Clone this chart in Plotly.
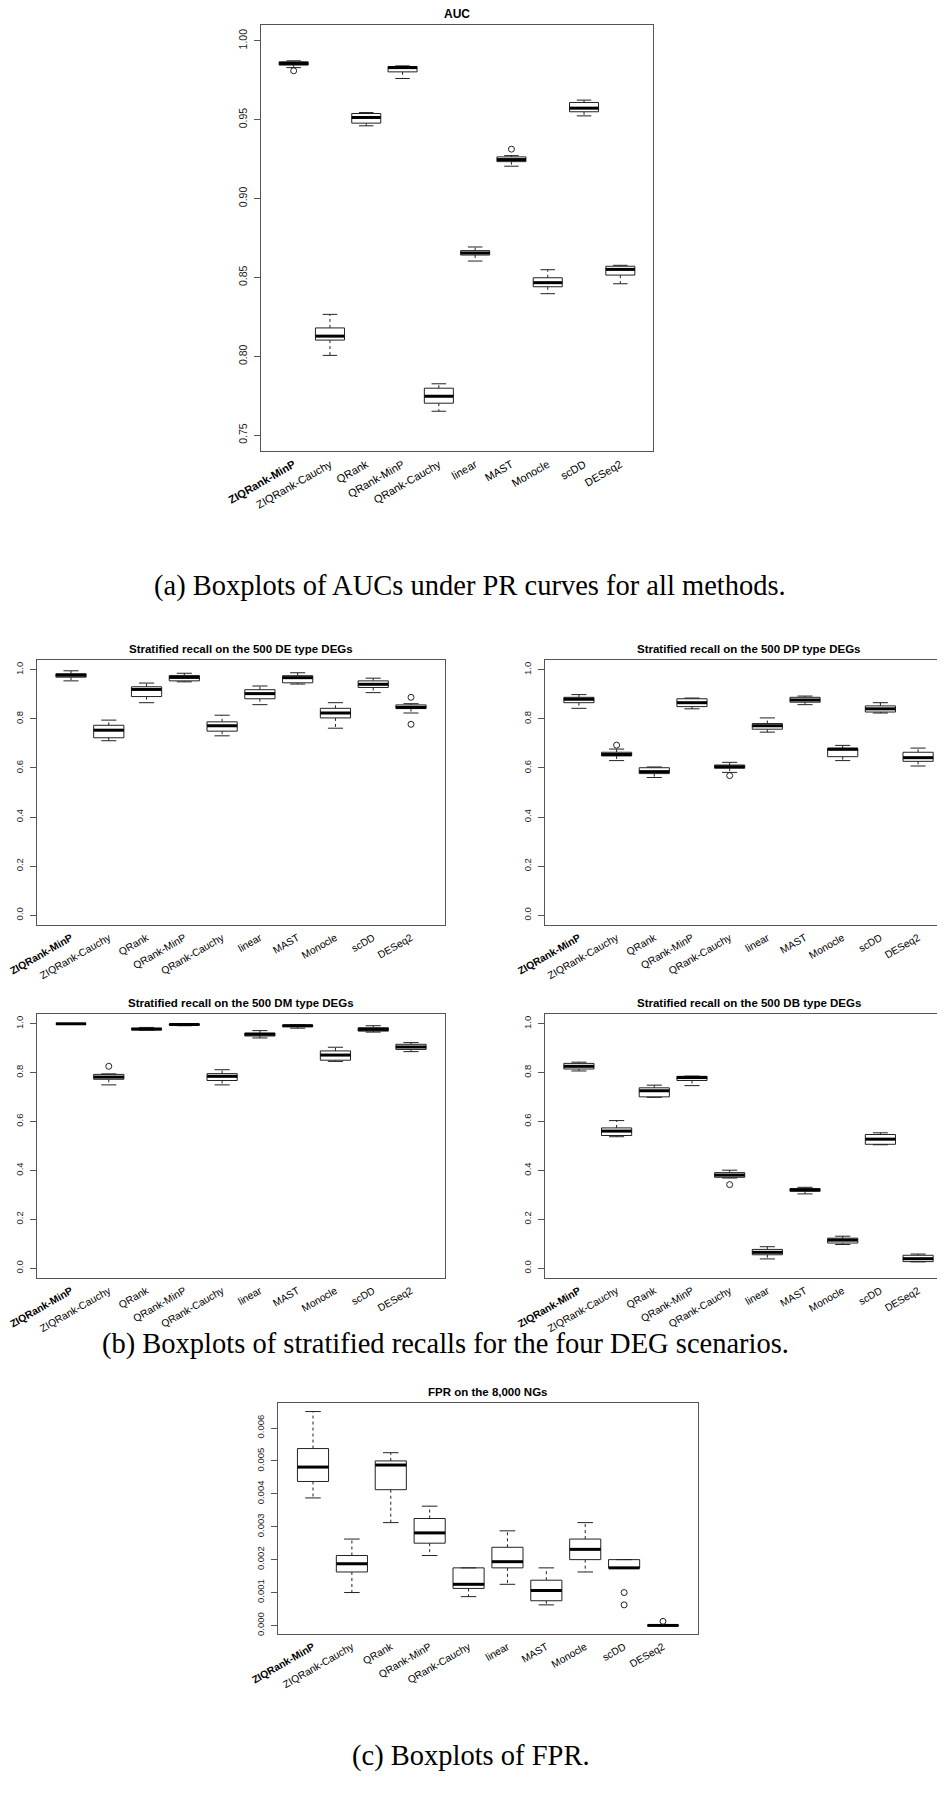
import plotly.graph_objects as go

W, H = 945, 1800

methods = ["ZIQRank-MinP", "ZIQRank-Cauchy", "QRank", "QRank-MinP", "QRank-Cauchy",
           "linear", "MAST", "Monocle", "scDD", "DESeq2"]
tick_text = ["<b>ZIQRank-MinP</b>"] + methods[1:]

# (a) AUC
auc_lo = [0.9830, 0.8006, 0.9461, 0.9761, 0.7652, 0.8604, 0.9205, 0.8397, 0.9524, 0.8460]
auc_q1 = [0.9846, 0.8103, 0.9478, 0.9803, 0.7703, 0.8642, 0.9234, 0.8441, 0.9550, 0.8515]
auc_med = [0.9856, 0.8128, 0.9514, 0.9830, 0.7747, 0.8655, 0.9247, 0.8467, 0.9573, 0.8551]
auc_q3 = [0.9867, 0.8180, 0.9539, 0.9837, 0.7798, 0.8670, 0.9264, 0.8498, 0.9609, 0.8571]
auc_hi = [0.9873, 0.8266, 0.9545, 0.9841, 0.7826, 0.8693, 0.9272, 0.8549, 0.9624, 0.8577]
auc_out = [[0.981], [], [], [], [], [], [0.9313], [], [], []]

# (b) stratified recall, DE
de_lo = [0.955, 0.711, 0.866, 0.951, 0.731, 0.858, 0.942, 0.762, 0.907, 0.824]
de_q1 = [0.970, 0.723, 0.891, 0.955, 0.750, 0.882, 0.947, 0.804, 0.928, 0.842]
de_med = [0.978, 0.754, 0.920, 0.969, 0.772, 0.903, 0.968, 0.824, 0.941, 0.847]
de_q3 = [0.984, 0.774, 0.931, 0.977, 0.788, 0.919, 0.976, 0.843, 0.955, 0.857]
de_hi = [0.996, 0.795, 0.946, 0.986, 0.815, 0.934, 0.988, 0.866, 0.966, 0.862]
de_out = [[], [], [], [], [], [], [], [], [], [0.888, 0.778]]

# DP
dp_lo = [0.843, 0.630, 0.561, 0.841, 0.582, 0.746, 0.858, 0.630, 0.824, 0.608]
dp_q1 = [0.866, 0.649, 0.577, 0.850, 0.599, 0.758, 0.868, 0.646, 0.828, 0.627]
dp_med = [0.880, 0.655, 0.585, 0.866, 0.605, 0.772, 0.877, 0.676, 0.841, 0.642]
dp_q3 = [0.888, 0.664, 0.601, 0.882, 0.612, 0.781, 0.888, 0.681, 0.853, 0.664]
dp_hi = [0.899, 0.677, 0.604, 0.885, 0.623, 0.804, 0.893, 0.692, 0.866, 0.681]
dp_out = [[], [0.693], [], [], [0.569], [], [], [], [], []]

# DM
dm_lo = [0.998, 0.750, 0.974, 0.992, 0.750, 0.942, 0.982, 0.846, 0.966, 0.886]
dm_q1 = [0.999, 0.773, 0.976, 0.995, 0.768, 0.950, 0.988, 0.851, 0.970, 0.895]
dm_med = [1.000, 0.782, 0.978, 0.997, 0.785, 0.957, 0.992, 0.872, 0.977, 0.905]
dm_q3 = [1.000, 0.793, 0.982, 0.999, 0.796, 0.962, 0.995, 0.889, 0.984, 0.916]
dm_hi = [1.000, 0.795, 0.985, 1.000, 0.812, 0.972, 0.996, 0.904, 0.992, 0.923]
dm_out = [[], [0.826], [], [], [], [], [], [], [], []]

# DB
db_lo = [0.807, 0.538, 0.699, 0.747, 0.369, 0.038, 0.304, 0.097, 0.505, 0.026]
db_q1 = [0.815, 0.543, 0.701, 0.768, 0.372, 0.055, 0.315, 0.103, 0.507, 0.027]
db_med = [0.826, 0.561, 0.726, 0.780, 0.381, 0.065, 0.320, 0.115, 0.528, 0.039]
db_q3 = [0.838, 0.574, 0.738, 0.785, 0.391, 0.077, 0.326, 0.123, 0.547, 0.053]
db_hi = [0.843, 0.604, 0.749, 0.786, 0.401, 0.088, 0.331, 0.131, 0.554, 0.058]
db_out = [[], [], [], [], [0.342], [], [], [], [], []]

# (c) FPR
fpr_lo = [0.003875, 0.001, 0.003125, 0.002125, 0.000875, 0.00125, 0.000625, 0.001625, 0.00175, 0.0]
fpr_q1 = [0.004375, 0.001625, 0.004125, 0.0025, 0.001125, 0.00175, 0.00075, 0.002, 0.00175, 0.0]
fpr_med = [0.0048125, 0.001875, 0.004875, 0.0028125, 0.00125, 0.0019375, 0.0010625, 0.0023125, 0.00175, 0.0]
fpr_q3 = [0.005375, 0.002125, 0.005, 0.00325, 0.00175, 0.002375, 0.001375, 0.002625, 0.002, 0.0]
fpr_hi = [0.0065, 0.002625, 0.00525, 0.003625, 0.00175, 0.002875, 0.00175, 0.003125, 0.002, 0.0]
fpr_out = [[], [], [], [], [], [], [], [], [0.001, 0.000625], [0.000125]]

recall_ticks = [0, 0.2, 0.4, 0.6, 0.8, 1.0]
panels = [
    # title, stats, plot box in px (x0, y0, x1, y1), y range, tick values, tick format
    ("AUC", (auc_lo, auc_q1, auc_med, auc_q3, auc_hi, auc_out), (253, 17, 645, 443),
     [0.74, 1.01], [0.75, 0.80, 0.85, 0.90, 0.95, 1.00], ".2f"),
    ("Stratified recall on the 500 DE type DEGs", (de_lo, de_q1, de_med, de_q3, de_hi, de_out),
     (29, 652, 437, 917), [-0.04, 1.04], recall_ticks, ".1f"),
    ("Stratified recall on the 500 DP type DEGs", (dp_lo, dp_q1, dp_med, dp_q3, dp_hi, dp_out),
     (537, 652, 944, 917), [-0.04, 1.04], recall_ticks, ".1f"),
    ("Stratified recall on the 500 DM type DEGs", (dm_lo, dm_q1, dm_med, dm_q3, dm_hi, dm_out),
     (29, 1006, 437, 1270), [-0.04, 1.04], recall_ticks, ".1f"),
    ("Stratified recall on the 500 DB type DEGs", (db_lo, db_q1, db_med, db_q3, db_hi, db_out),
     (537, 1006, 944, 1270), [-0.04, 1.04], recall_ticks, ".1f"),
    ("FPR on the 8,000 NGs", (fpr_lo, fpr_q1, fpr_med, fpr_q3, fpr_hi, fpr_out),
     (270, 1395, 690, 1626), [-0.00026, 0.00676],
     [0, 0.001, 0.002, 0.003, 0.004, 0.005, 0.006], ".3f"),
]

captions = [
    ("(a) Boxplots of AUCs under PR curves for all methods.", 462, 578),
    ("(b) Boxplots of stratified recalls for the four DEG scenarios.", 437, 1336),
    ("(c) Boxplots of FPR.", 463, 1748),
]

SANS = "Liberation Sans, Arial, sans-serif"
SERIF = "Liberation Serif, Times New Roman, serif"
BOXW = 0.4   # half box width
CAPW = 0.2   # half staple width

fig = go.Figure()
layout = {}
annotations = []

for k, (title, stats, box, yr, yticks, fmt) in enumerate(panels):
    lo, q1, med, q3, hi, out = stats
    n = k + 1
    xa = "x" if n == 1 else f"x{n}"
    ya = "y" if n == 1 else f"y{n}"
    pos = list(range(1, len(methods) + 1))

    wx, wy, bx, by, mx, my, cx, cy, ox, oy = [], [], [], [], [], [], [], [], [], []
    for i, p in enumerate(pos):
        wx += [p, p, None, p, p, None]
        wy += [q3[i], hi[i], None, q1[i], lo[i], None]
        bx += [p - BOXW, p + BOXW, p + BOXW, p - BOXW, p - BOXW, None]
        by += [q1[i], q1[i], q3[i], q3[i], q1[i], None]
        mx += [p - BOXW, p + BOXW, None]
        my += [med[i], med[i], None]
        cx += [p - CAPW, p + CAPW, None, p - CAPW, p + CAPW, None]
        cy += [hi[i], hi[i], None, lo[i], lo[i], None]
        for v in out[i]:
            ox.append(p)
            oy.append(v)

    common = dict(xaxis=xa, yaxis=ya, showlegend=False, hoverinfo="skip")
    fig.add_trace(go.Scatter(x=wx, y=wy, mode="lines",
                             line=dict(color="#222", width=1, dash="3px,3px"), **common))
    fig.add_trace(go.Scatter(x=bx, y=by, mode="lines", fill="toself", fillcolor="white",
                             line=dict(color="#222", width=1), **common))
    fig.add_trace(go.Scatter(x=cx, y=cy, mode="lines",
                             line=dict(color="#222", width=1), **common))
    fig.add_trace(go.Scatter(x=mx, y=my, mode="lines",
                             line=dict(color="black", width=3), **common))
    fig.add_trace(go.Scatter(x=ox, y=oy, mode="markers",
                             marker=dict(symbol="circle-open", size=6,
                                         color="#222", line=dict(width=1)), **common))

    x0, y0, x1, y1 = box
    big = (n == 1)
    layout["xaxis" if n == 1 else f"xaxis{n}"] = dict(
        domain=[x0 / W, x1 / W], anchor=ya, range=[0.1, 10.9],
        tickmode="array", tickvals=pos, ticktext=tick_text, tickangle=-30,
        ticks="", showgrid=False, zeroline=False,
        showline=True, mirror=True, linecolor="#555", linewidth=1,
        tickfont=dict(family=SANS, size=11 if big else 10.3, color="black"),
        automargin=False, ticklabelstandoff=2,
    )
    layout["yaxis" if n == 1 else f"yaxis{n}"] = dict(
        domain=[1 - y1 / H, 1 - y0 / H], anchor=xa, range=yr,
        tickmode="array", tickvals=yticks, tickformat=fmt, tickangle=-90,
        ticks="outside", ticklen=6, tickcolor="#555", showgrid=False, zeroline=False,
        showline=True, mirror=True, linecolor="#555", linewidth=1,
        tickfont=dict(family=SANS, size=10.5 if big else 9.5, color="#222"),
        automargin=False, ticklabelstandoff=3,
    )
    annotations.append(dict(
        text=f"<b>{title}</b>", x=(x0 + x1) / 2 / W, y=1 - (y0 - 11) / H,
        xref="paper", yref="paper", xanchor="center", yanchor="middle",
        showarrow=False, font=dict(family=SANS, size=12 if big else 11.5, color="black"),
    ))

for text, cxp, cyp in captions:
    annotations.append(dict(
        text=text, x=cxp / W, y=1 - cyp / H, xref="paper", yref="paper",
        xanchor="center", yanchor="middle", showarrow=False,
        font=dict(family=SERIF, size=28.5, color="black"),
    ))

fig.update_layout(
    width=W, height=H, margin=dict(l=0, r=0, t=0, b=0),
    template="none", paper_bgcolor="white", plot_bgcolor="white",
    annotations=annotations, **layout,
)

fig.write_html("out.html")
